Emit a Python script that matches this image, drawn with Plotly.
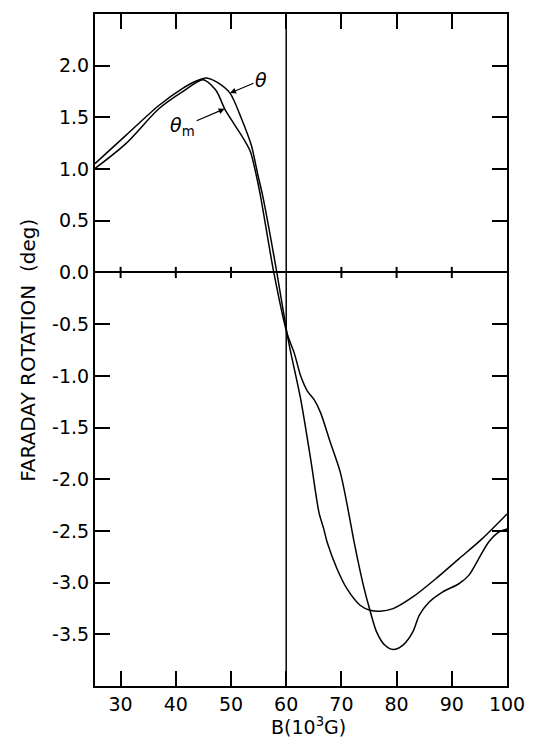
import plotly.graph_objects as go

# ---- data ----
B_theta = [25.35, 30.95, 36.93, 41.1, 43.6, 45.57, 47.67, 49.82, 51.9, 53.68, 54.88, 55.78,
           58.3, 60.13, 60.84, 62.63, 64.43, 65.93, 66.8, 67.42, 69.2, 71.0, 73.38, 75.17,
           76.96, 79.36, 82.94, 87.1, 91.28, 95.47, 100.0]
V_theta = [1.053, 1.326, 1.615, 1.776, 1.85, 1.882, 1.834, 1.735, 1.487, 1.23, 0.94, 0.732,
           0.0, -0.585, -0.778, -1.228, -1.806, -2.32, -2.48, -2.61, -2.866, -3.059, -3.219, -3.267,
           -3.277, -3.252, -3.139, -2.963, -2.77, -2.577, -2.336]

B_theta_m = [25.35, 30.95, 36.93, 41.1, 44.98, 47.06, 47.72, 48.85, 50.64, 52.2, 53.5, 54.58, 55.37,
             57.75, 60.13, 61.45, 62.63, 63.83, 65.03, 66.22, 68.0, 69.8, 71.3, 72.19, 73.98,
             75.17, 76.37, 77.85, 79.36, 81.15, 82.94, 84.12, 85.91, 88.31, 91.28, 93.07,
             94.86, 96.65, 98.44, 100.0]
V_theta_m = [1.005, 1.246, 1.583, 1.744, 1.863, 1.776, 1.72, 1.583, 1.43, 1.3, 1.17, 0.94, 0.732,
             0.0, -0.585, -0.778, -1.002, -1.147, -1.228, -1.356, -1.645, -1.934, -2.32, -2.577, -3.026,
             -3.267, -3.476, -3.604, -3.647, -3.604, -3.476, -3.315, -3.187, -3.091, -3.011, -2.93,
             -2.77, -2.609, -2.513, -2.48]

X_TICKS = [30, 40, 50, 60, 70, 80, 90, 100]
X_TICK_TEXT = ["30", "40", "50", "60", "70", "80", "90", "100"]
Y_TICKS = [2.0, 1.5, 1.0, 0.5, 0.0, -0.5, -1.0, -1.5, -2.0, -2.5, -3.0, -3.5]
Y_TICK_TEXT = ["2.0", "1.5", "1.0", "0.5", "0.0", "-0.5", "-1.0", "-1.5", "-2.0", "-2.5", "-3.0", "-3.5"]
ZERO_LINE_TICKS = [30, 40, 50, 70, 80, 90]
REF_B = 60
X_RANGE = [25.36, 100]
Y_RANGE = [-4.0, 2.5]

THETA_ARROW = (49.82, 1.735)
THETA_M_ARROW = (48.85, 1.583)

FONT = "DejaVu Sans"

fig = go.Figure()

fig.add_trace(go.Scatter(x=B_theta, y=V_theta, mode="lines",
                         line=dict(color="black", width=1.5, shape="spline", smoothing=0.8),
                         name="θ", showlegend=False))
fig.add_trace(go.Scatter(x=B_theta_m, y=V_theta_m, mode="lines",
                         line=dict(color="black", width=1.5, shape="spline", smoothing=0.8),
                         name="θm", showlegend=False))
fig.add_trace(go.Scatter(x=ZERO_LINE_TICKS, y=[0] * len(ZERO_LINE_TICKS), mode="markers",
                         marker=dict(symbol="line-ns", size=8, line=dict(color="black", width=2)),
                         showlegend=False, hoverinfo="skip"))

fig.add_vline(x=REF_B, line=dict(color="black", width=1.5))

axis_common = dict(showline=True, linecolor="black", linewidth=2, mirror="ticks",
                   ticks="inside", ticklen=15, tickwidth=1.5, tickcolor="black",
                   showgrid=False, tickfont=dict(family=FONT, size=19, color="black"))

fig.update_xaxes(range=X_RANGE, tickvals=X_TICKS, ticktext=X_TICK_TEXT, zeroline=False,
                 **axis_common)
fig.update_yaxes(range=Y_RANGE, tickvals=Y_TICKS, ticktext=Y_TICK_TEXT, zeroline=True,
                 zerolinecolor="black", zerolinewidth=1.5, **axis_common)

fig.add_annotation(x=THETA_ARROW[0], y=THETA_ARROW[1], text="<i>θ</i>", showarrow=True,
                   ax=31, ay=-13, arrowhead=2, arrowsize=1, arrowwidth=1.2, arrowcolor="black",
                   font=dict(family=FONT, size=19, color="black"))
fig.add_annotation(x=THETA_M_ARROW[0], y=THETA_M_ARROW[1], text="<i>θ</i><sub>m</sub>",
                   showarrow=True, ax=-42, ay=18, arrowhead=2, arrowsize=1, arrowwidth=1.2,
                   arrowcolor="black", font=dict(family=FONT, size=19, color="black"))

fig.add_annotation(xref="paper", yref="paper", x=-0.163, y=0.5, xanchor="center",
                   yanchor="middle", textangle=-90,
                   text="FARADAY ROTATION  (deg)", showarrow=False,
                   font=dict(family=FONT, size=20, color="black"))
fig.add_annotation(xref="paper", yref="paper", x=0.518, y=-0.0595, xanchor="center",
                   yanchor="middle", text="B(10<sup>3</sup>G)", showarrow=False,
                   font=dict(family=FONT, size=19, color="black"))

fig.update_layout(width=537, height=738, margin=dict(l=95, r=24, t=12, b=52),
                  paper_bgcolor="white", plot_bgcolor="white", showlegend=False)

fig.write_html("out.html", config={"displayModeBar": False},
               post_script="document.body.style.margin='0px';")
